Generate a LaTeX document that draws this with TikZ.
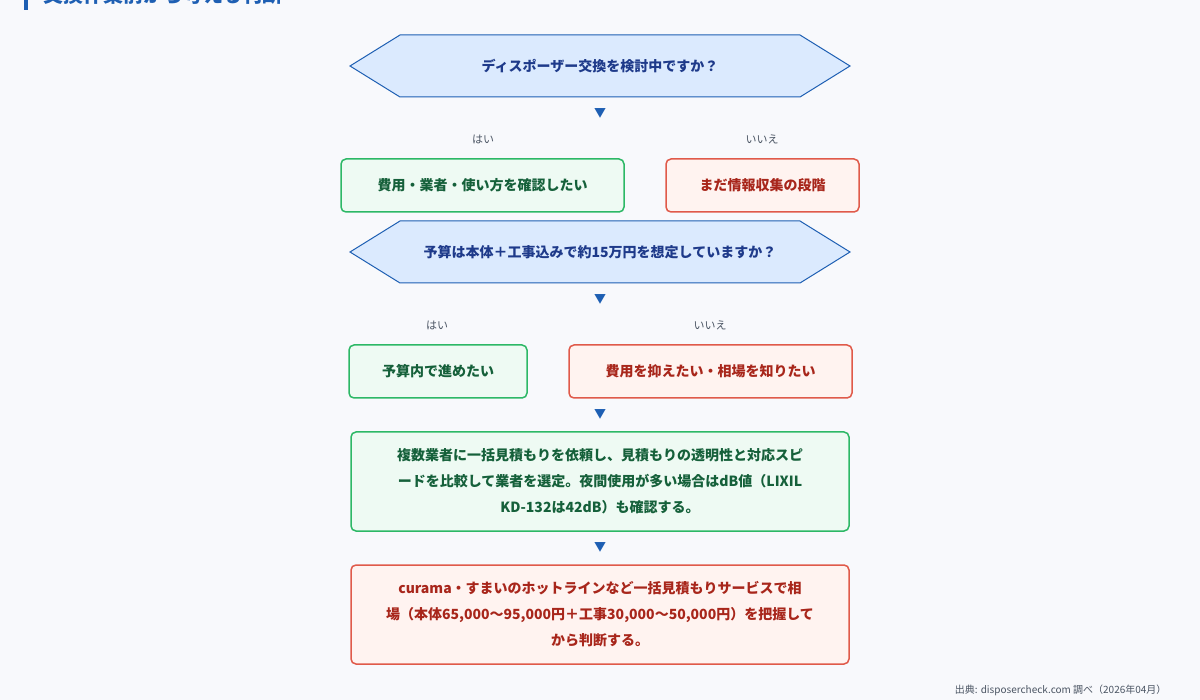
\documentclass[tikz,border=0pt]{standalone}
\usepackage{fontspec}
\setmainfont{Noto Sans CJK JP}
\usetikzlibrary{shapes.geometric}
\definecolor{bg}{HTML}{F8F9FC}
\definecolor{hexf}{HTML}{DBEAFE}
\definecolor{hexd}{HTML}{1E5FB3}
\definecolor{hext}{HTML}{1E3A8A}
\definecolor{gd}{HTML}{2DB866}
\definecolor{gf}{HTML}{EEFAF3}
\definecolor{gt}{HTML}{15603A}
\definecolor{rd}{HTML}{E05A4A}
\definecolor{rf}{HTML}{FFF3F0}
\definecolor{rt}{HTML}{A8261B}
\definecolor{lab}{HTML}{4B5563}
\begin{document}
\begin{tikzpicture}[x=1pt,y=-1pt,
  txt/.style={font=\fontsize{14}{26}\selectfont\bfseries},
  gbox/.style={draw=gd,fill=gf,line width=1.5pt,rounded corners=5pt,text=gt,txt,align=center},
  rbox/.style={draw=rd,fill=rf,line width=1.5pt,rounded corners=5pt,text=rt,txt,align=center},
  arr/.style={text=hexd,font=\fontsize{12}{12}\selectfont},
  yn/.style={text=lab,font=\fontsize{11}{11}\selectfont}]
\fill[bg] (0,0) rectangle (1200,700);
\useasboundingbox (0,0) rectangle (1200,700);
\fill[hexd] (24,-2) rectangle (28,10);
\begin{scope}
\clip (0,0) rectangle (1200,700);
\node[anchor=base west,text=hexd,font=\fontsize{20}{20}\selectfont\bfseries] (title) at (40,3) {交換作業前から考える判断};
\end{scope}
% hexagon 1
\path[draw=hexd,fill=hexf,line width=1pt] (350,66) -- (400,35) -- (800,35) -- (850,66) -- (800,97) -- (400,97) -- cycle;
\node[txt,text=hext] (q1) at (600,66) {ディスポーザー交換を検討中ですか？};
\node[arr] (a1) at (600,113) {▼};
\node[yn] (y1) at (483,139) {はい};
\node[yn] (n1) at (762,139) {いいえ};
\node[gbox,minimum width=283pt,minimum height=53pt] (b1) at (482.5,185.5) {費用・業者・使い方を確認したい};
\node[rbox,minimum width=193pt,minimum height=53pt] (b2) at (762.5,185.5) {まだ情報収集の段階};
% hexagon 2
\path[draw=hexd,fill=hexf,line width=1pt] (350,252) -- (400,221) -- (800,221) -- (850,252) -- (800,283) -- (400,283) -- cycle;
\node[txt,text=hext] (q2) at (600,252) {予算は本体＋工事込みで約15万円を想定していますか？};
\node[arr] (a2) at (600,299) {▼};
\node[yn] (y2) at (437,325) {はい};
\node[yn] (n2) at (710,325) {いいえ};
\node[gbox,minimum width=178pt,minimum height=53pt] (b3) at (438,371.5) {予算内で進めたい};
\node[rbox,minimum width=283pt,minimum height=53pt] (b4) at (710.5,371.5) {費用を抑えたい・相場を知りたい};
\node[arr] (a3) at (600,414) {▼};
\node[gbox,minimum width=498pt,minimum height=99pt] (b5) at (600,481.5) {複数業者に一括見積もりを依頼し、見積もりの透明性と対応スピ\\ードを比較して業者を選定。夜間使用が多い場合はdB値（LIXIL\\KD-132は42dB）も確認する。};
\node[arr] (a4) at (600,547) {▼};
\node[rbox,minimum width=498pt,minimum height=99pt] (b6) at (600,614.5) {curama・すまいのホットラインなど一括見積もりサービスで相\\場（本体65,000〜95,000円＋工事30,000〜50,000円）を把握して\\から判断する。};
\node[anchor=east,text=lab,font=\fontsize{10}{10}\selectfont] (src) at (1170,690) {出典: disposercheck.com 調べ（2026年04月）};
\end{tikzpicture}
\end{document}
